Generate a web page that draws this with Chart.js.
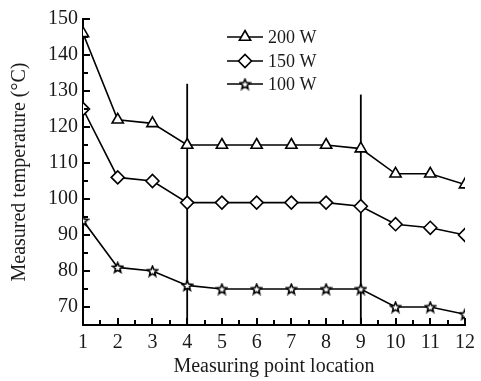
<!DOCTYPE html>
<html>
<head>
<meta charset="utf-8">
<script src="https://cdn.jsdelivr.net/npm/chart.js@4.4.0/dist/chart.umd.min.js"></script>
<style>
  html, body { margin: 0; padding: 0; background: #fff; }
  canvas { display: block; }
</style>
</head>
<body>
<canvas id="chart" width="481" height="381"></canvas>
<script>
// Measured temperature at each measuring point, three heater powers
const positions = [1, 2, 3, 4, 5, 6, 7, 8, 9, 10, 11, 12];
const temp200 = [146, 122, 121, 115, 115, 115, 115, 115, 114, 107, 107, 104];
const temp150 = [125, 106, 105, 99, 99, 99, 99, 99, 98, 93, 92, 90];
const temp100 = [94, 81, 80, 76, 75, 75, 75, 75, 75, 70, 70, 68];
const seriesLabels = ['200 W', '150 W', '100 W'];
const dividerX = [4, 9];
const dividerTop = [132, 129];
const yTicks = [70, 80, 90, 100, 110, 120, 130, 140, 150];

const FONT = '"Liberation Serif", "Times New Roman", serif';
const INK = '#1a1a1a';

// open five-point star, used as the 100 W marker
function makeStar(size) {
  const c = document.createElement('canvas');
  c.width = size; c.height = size;
  const g = c.getContext('2d');
  const cx = size / 2, cy = size / 2 + 0.5;
  const outer = size / 2 - 1.2, inner = outer * 0.45;
  g.beginPath();
  for (let i = 0; i < 10; i++) {
    const r = i % 2 === 0 ? outer : inner;
    const a = -Math.PI / 2 + i * Math.PI / 5;
    const px = cx + r * Math.cos(a), py = cy + r * Math.sin(a);
    if (i === 0) g.moveTo(px, py); else g.lineTo(px, py);
  }
  g.closePath();
  g.fillStyle = '#fff';
  g.fill();
  g.lineWidth = 1.6;
  g.strokeStyle = '#000';
  g.stroke();
  return c;
}
const star = makeStar(13);

function series(label, values, style, radius) {
  return {
    label,
    data: positions.map((p, i) => ({ x: p, y: values[i] })),
    borderColor: '#000',
    borderWidth: 1.6,
    pointStyle: style,
    pointRadius: radius,
    pointBorderWidth: 1.6,
    pointBackgroundColor: '#fff',
    pointBorderColor: '#000',
    tension: 0,
  };
}

const datasets = [
  series(seriesLabels[0], temp200, 'triangle', 6.5),
  series(seriesLabels[1], temp150, 'rectRot', 6.5),
  series(seriesLabels[2], temp100, star, 6),
];
dividerX.forEach((xv, i) => {
  datasets.push({
    label: 'divider' + i,
    data: [{ x: xv, y: 65 }, { x: xv, y: dividerTop[i] }],
    borderColor: '#000',
    borderWidth: 1.8,
    pointRadius: 0,
  });
});

// inward major/minor ticks and the line+marker legend
const decorations = {
  id: 'decorations',
  afterDraw(chart) {
    const ctx = chart.ctx;
    const a = chart.chartArea;
    const xs = chart.scales.x, ys = chart.scales.y;
    ctx.save();
    ctx.strokeStyle = '#000';
    ctx.lineWidth = 2;
    for (let i = 2; i <= 24; i++) {
      const v = i / 2;
      const px = Math.round(xs.getPixelForValue(v));
      const len = i % 2 === 0 ? 6 : 4;
      ctx.beginPath();
      ctx.moveTo(px, a.bottom - 1);
      ctx.lineTo(px, a.bottom - 1 - len);
      ctx.stroke();
    }
    for (let v = 70; v <= 150; v += 5) {
      const py = Math.round(ys.getPixelForValue(v));
      const len = v % 10 === 0 ? 6 : 4;
      ctx.beginPath();
      ctx.moveTo(a.left + 1, py);
      ctx.lineTo(a.left + 1 + len, py);
      ctx.stroke();
    }

    const lx = 227, lw = 36, ty = [37, 61, 84];
    ctx.font = '18px ' + FONT;
    ctx.textBaseline = 'middle';
    for (let i = 0; i < 3; i++) {
      const ds = chart.data.datasets[i];
      ctx.beginPath();
      ctx.strokeStyle = '#000';
      ctx.lineWidth = 1.6;
      ctx.moveTo(lx, ty[i]); ctx.lineTo(lx + lw, ty[i]);
      ctx.stroke();
      ctx.fillStyle = '#fff';
      Chart.helpers.drawPoint(ctx, {
        pointStyle: ds.pointStyle, radius: ds.pointRadius, rotation: 0, borderWidth: 1.6,
      }, lx + lw / 2, ty[i]);
      ctx.fillStyle = INK;
      ctx.fillText(ds.label, lx + lw + 5, ty[i] + 1);
    }
    ctx.restore();
  },
};

new Chart(document.getElementById('chart'), {
  type: 'line',
  data: { datasets },
  plugins: [decorations],
  options: {
    responsive: false,
    animation: false,
    layout: { padding: { top: 19, right: 15, left: 0, bottom: 0 } },
    plugins: { legend: { display: false }, tooltip: { enabled: false } },
    scales: {
      x: {
        type: 'linear',
        min: 1, max: 12,
        afterFit: (s) => { s.height = 56; },
        grid: { display: false, drawTicks: false },
        border: { display: true, color: '#000', width: 2 },
        ticks: { stepSize: 1, padding: 6, color: INK, font: { family: FONT, size: 20 } },
        title: {
          display: true, text: 'Measuring point location', color: INK,
          font: { family: FONT, size: 20 }, padding: { top: 0, bottom: 2 },
        },
      },
      y: {
        min: 65, max: 150,
        afterFit: (s) => { s.width = 83; },
        afterBuildTicks: (s) => { s.ticks = yTicks.map((v) => ({ value: v })); },
        grid: { display: false, drawTicks: false },
        border: { display: true, color: '#000', width: 2 },
        ticks: { padding: 5, color: INK, font: { family: FONT, size: 20 } },
        title: {
          display: true, text: 'Measured temperature (°C)', color: INK,
          font: { family: FONT, size: 20 }, padding: { top: 8, bottom: 0 },
        },
      },
    },
  },
});
</script>
</body>
</html>
